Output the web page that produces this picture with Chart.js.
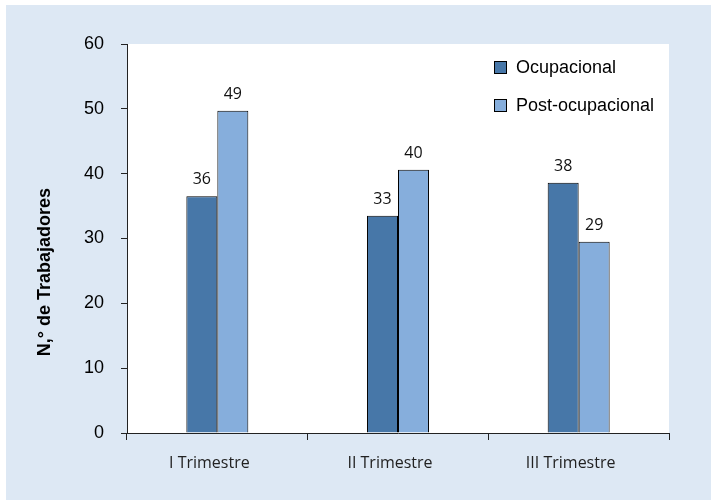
<!DOCTYPE html>
<html>
<head>
<meta charset="utf-8">
<script src="https://cdn.jsdelivr.net/npm/chart.js@4.4.1/dist/chart.umd.min.js"></script>
<style>
  html, body { margin: 0; padding: 0; background: #ffffff; }
  canvas { display: block; }
</style>
</head>
<body>
<canvas id="barChart" width="711" height="500"></canvas>
<script>
// datos del grafico
var categorias = ['I Trimestre', 'II Trimestre', 'III Trimestre'];
var ocupacional = [36.5, 33.5, 38.6];
var postOcupacional = [49.7, 40.6, 29.5];
var ticksY = [0, 10, 20, 30, 40, 50, 60];

var colorOscuro = '#4777a8';
var colorClaro = '#86aedc';

// fondo azul claro y area blanca
var fondoPlugin = {
    id: 'fondo',
    beforeDraw: function(chart) {
        var ctx = chart.ctx;
        var a = chart.chartArea;
        ctx.save();
        ctx.fillStyle = '#ffffff';
        ctx.fillRect(0, 0, chart.width, chart.height);
        ctx.fillStyle = '#dde8f4';
        ctx.fillRect(6, 5, chart.width - 6, chart.height - 5);
        ctx.fillStyle = '#ffffff';
        ctx.fillRect(a.left, a.top, a.right - a.left, a.bottom - a.top);
        ctx.restore();
    }
};

// etiquetas de valor, leyenda y titulo del eje
var extrasPlugin = {
    id: 'extras',
    afterDraw: function(chart) {
        var ctx = chart.ctx;
        ctx.save();
        ctx.fillStyle = '#111';
        ctx.font = '16px "Open Sans"';
        ctx.textAlign = 'center';
        ctx.textBaseline = 'alphabetic';
        chart.data.datasets.forEach(function(ds, i) {
            chart.getDatasetMeta(i).data.forEach(function(bar, j) {
                ctx.fillText(String(Math.floor(ds.data[j])), bar.x, bar.y - 12);
            });
        });

        // leyenda
        ctx.font = '18px "Liberation Sans", Arial';
        ctx.textAlign = 'left';
        ctx.textBaseline = 'middle';
        chart.data.datasets.forEach(function(ds, i) {
            var y = 61 + i * 38;
            ctx.fillStyle = ds.backgroundColor;
            ctx.fillRect(494, y, 13, 13);
            ctx.strokeStyle = '#000';
            ctx.lineWidth = 1;
            ctx.strokeRect(494.5, y + 0.5, 12, 12);
            ctx.fillStyle = '#000';
            ctx.fillText(ds.label, 516, y + 7);
        });

        // titulo eje Y
        ctx.translate(45, 272);
        ctx.rotate(-Math.PI / 2);
        ctx.textAlign = 'center';
        ctx.font = 'bold 18px "Liberation Sans", Arial';
        ctx.fillText('N,° de Trabajadores', 0, 0);
        ctx.restore();
    }
};

var chart = new Chart(document.getElementById('barChart'), {
    type: 'bar',
    data: {
        labels: categorias,
        datasets: [{
            label: 'Ocupacional',
            data: ocupacional,
            backgroundColor: colorOscuro,
            borderColor: '#000',
            borderWidth: 1
        }, {
            label: 'Post-ocupacional',
            data: postOcupacional,
            backgroundColor: colorClaro,
            borderColor: '#000',
            borderWidth: 1
        }]
    },
    options: {
        responsive: false,
        animation: false,
        layout: { padding: { top: 44, right: 42, left: 0, bottom: 0 } },
        datasets: { bar: { barPercentage: 1, categoryPercentage: 0.343 } },
        plugins: {
            legend: { display: false },
            tooltip: { enabled: false }
        },
        scales: {
            x: {
                grid: { display: true, drawOnChartArea: false, drawTicks: true, tickLength: 7, color: '#222' },
                border: { color: '#222', width: 1 },
                ticks: {
                    color: '#222',
                    font: { family: '"Open Sans"', size: 16 },
                    padding: 14,
                    labelOffset: -8,
                    maxRotation: 0
                },
                afterFit: function(scale) { scale.height = 67; }
            },
            y: {
                min: 0,
                max: 60,
                afterBuildTicks: function(scale) {
                    scale.ticks = ticksY.map(function(v) { return { value: v }; });
                },
                grid: { display: true, drawOnChartArea: false, drawTicks: true, tickLength: 6, color: '#222' },
                border: { color: '#222', width: 1 },
                ticks: {
                    color: '#000',
                    font: { family: '"Liberation Sans", Arial', size: 18 },
                    padding: 17
                },
                afterFit: function(scale) { scale.width = 127; }
            }
        }
    },
    plugins: [fondoPlugin, extrasPlugin]
});
</script>
</body>
</html>
